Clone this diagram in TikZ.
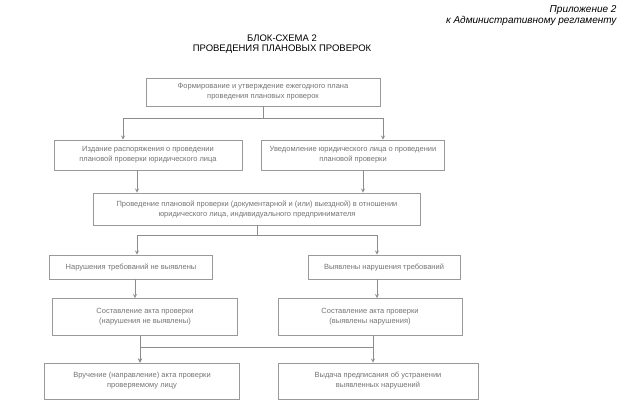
\documentclass[tikz,border=0pt]{standalone}
\usepackage{fontspec}
\setmainfont{Liberation Sans}
\usetikzlibrary{shapes.geometric, arrows}
\tikzstyle{block} = [rectangle, draw=black!40, line width=0.9pt, text=black!55, font=\fontsize{7.5}{10}\selectfont, align=center, inner sep=2pt]
\tikzstyle{arrow} = [draw=black!45, line width=0.8pt, ->, >=stealth]

\begin{document}
\begin{tikzpicture}[node distance=60pt]
\useasboundingbox (-263pt,92pt) rectangle (361pt,-313pt);

\node (annex) [anchor=north east, align=right, font=\itshape\fontsize{10}{10.5}\selectfont] at (357pt,90pt) {Приложение 2\\к Административному регламенту};
\node (title) [align=center, font=\fontsize{9.5}{10.5}\selectfont] at (19pt,48pt) {БЛОК-СХЕМА 2\\ПРОВЕДЕНИЯ ПЛАНОВЫХ ПРОВЕРОК};

\node (plan) [block, minimum width=234pt, minimum height=28pt] {Формирование и утверждение ежегодного плана\\проведения плановых проверок};
\node (order) [block, below of=plan, xshift=-115pt, yshift=-3pt, minimum width=188pt, minimum height=30pt] {Издание распоряжения о проведении\\плановой проверки юридического лица};
\node (notice) [block, right of=order, xshift=145pt, minimum width=183pt, minimum height=30pt] {Уведомление юридического лица о проведении\\плановой проверки};
\node (inspect) [block, below of=order, xshift=109pt, yshift=6pt, minimum width=327pt, minimum height=32pt] {Проведение плановой проверки (документарной и (или) выездной) в отношении\\юридического лица, индивидуального предпринимателя};
\node (noviol) [block, below of=inspect, xshift=-126pt, yshift=2pt, minimum width=163pt, minimum height=24pt] {Нарушения требований не выявлены};
\node (viol) [block, right of=noviol, xshift=193pt, minimum width=152pt, minimum height=24pt] {Выявлены нарушения требований};
\node (actL) [block, below of=noviol, xshift=14pt, yshift=10pt, minimum width=185pt, minimum height=37pt] {Составление акта проверки\\(нарушения не выявлены)};
\node (actR) [block, right of=actL, xshift=165pt, minimum width=184pt, minimum height=37pt] {Составление акта проверки\\(выявлены нарушения)};
\node (handL) [block, below of=actL, xshift=-3pt, yshift=-4pt, minimum width=195pt, minimum height=36pt] {Вручение (направление) акта проверки\\проверяемому лицу};
\node (handR) [block, right of=handL, xshift=176pt, minimum width=200pt, minimum height=36pt] {Выдача предписания об устранении\\выявленных нарушений};

\draw [arrow] (plan.south) -- ++(0,-12pt) -| ([xshift=-25pt]order.north);
\draw [arrow] (plan.south) -- ++(0,-12pt) -| ([xshift=30pt]notice.north);
\draw [arrow] ([xshift=-11pt]order.south) -- ([xshift=-11pt]order.south |- inspect.north);
\draw [arrow] ([xshift=10pt]notice.south) -- ([xshift=10pt]notice.south |- inspect.north);
\draw [arrow] (inspect.south) -- ++(0,-10pt) -| ([xshift=6pt]noviol.north);
\draw [arrow] (inspect.south) -- ++(0,-10pt) -| ([xshift=-7pt]viol.north);
\draw [arrow] ([xshift=4pt]noviol.south) -- ([xshift=4pt]noviol.south |- actL.north);
\draw [arrow] ([xshift=-7pt]viol.south) -- ([xshift=-7pt]viol.south |- actR.north);
\draw [arrow] ([xshift=-5pt]actL.south) -- ([xshift=-5pt]actL.south |- handL.north);
\draw [arrow] ([xshift=3pt]actR.south) -- ([xshift=3pt]actR.south |- handR.north);
\draw [arrow] ([xshift=3pt]actR.south) -- ++(0,-11pt) -| ([xshift=-2pt]handL.north);

\end{tikzpicture}
\end{document}
